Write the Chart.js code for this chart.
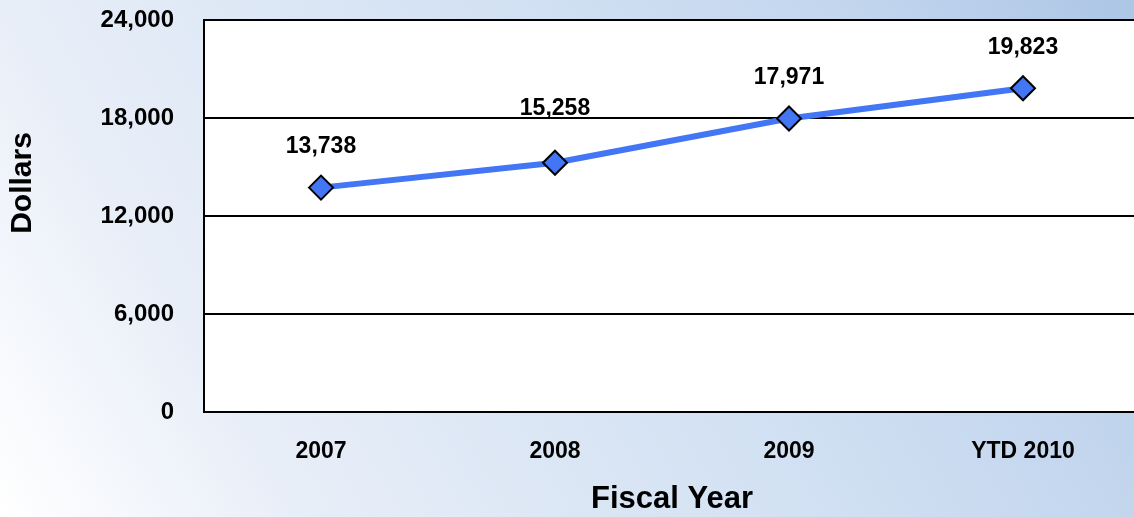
<!DOCTYPE html>
<html>
<head>
<meta charset="utf-8">
<script src="https://cdn.jsdelivr.net/npm/chart.js@4/dist/chart.umd.min.js"></script>
<style>
  html, body { margin: 0; padding: 0; width: 1134px; height: 517px; overflow: hidden; }
  body { background: linear-gradient(60deg, #ffffff 0%, #e8eef8 21%, #cfdff2 61%, #c3d6ee 79%, #adc6e6 100%); }
  #wrap { position: absolute; left: 0; top: 0; width: 1154px; height: 517px; }
</style>
</head>
<body>
<div id="wrap"><canvas id="c" width="1154" height="517"></canvas></div>
<script>
const categories = ["2007", "2008", "2009", "YTD 2010"];
const dollars = [13738, 15258, 17971, 19823];
const yTicks = [0, 6000, 12000, 18000, 24000];
const yTitle = "Dollars";
const xTitle = "Fiscal Year";

const FONT = "'Liberation Sans', Arial, sans-serif";
const fmt = v => v.toLocaleString('en-US');

const plotBg = {
  id: 'plotBg',
  beforeDraw(chart) {
    const {ctx, chartArea: a} = chart;
    ctx.save();
    ctx.fillStyle = '#ffffff';
    ctx.fillRect(a.left, a.top, a.right - a.left, a.bottom - a.top);
    ctx.restore();
  },
  afterDatasetsDraw(chart) {
    const {ctx, chartArea: a} = chart;
    ctx.save();
    ctx.strokeStyle = '#000';
    ctx.lineWidth = 2;
    ctx.strokeRect(a.left, a.top, a.right - a.left, a.bottom - a.top);
    ctx.restore();
  }
};

const labels = {
  id: 'valueLabels',
  afterDatasetsDraw(chart) {
    const {ctx} = chart;
    const meta = chart.getDatasetMeta(0);
    ctx.save();
    ctx.font = "bold 23px " + FONT;
    ctx.fillStyle = '#000';
    ctx.textAlign = 'center';
    ctx.textBaseline = 'middle';
    meta.data.forEach((pt, i) => {
      const off = i === 1 ? 54 : 41;
      ctx.fillText(fmt(chart.data.datasets[0].data[i]), pt.x, pt.y - off);
    });
    // y axis title
    ctx.font = "bold 30px " + FONT;
    ctx.translate(23, 183);
    ctx.rotate(-Math.PI / 2);
    ctx.fillText(yTitle, 0, 0);
    ctx.restore();
  }
};

new Chart(document.getElementById('c'), {
  type: 'line',
  data: {
    labels: categories,
    datasets: [{
      data: dollars,
      borderColor: 'rgb(66,118,245)',
      borderWidth: 6,
      backgroundColor: 'rgb(66,118,245)',
      pointStyle: 'rectRot',
      pointRadius: 12,
      pointHoverRadius: 12,
      pointBackgroundColor: 'rgb(66,118,245)',
      pointBorderColor: '#000',
      pointBorderWidth: 2,
      tension: 0,
      clip: false
    }]
  },
  options: {
    responsive: false,
    animation: false,
    events: [],
    layout: { padding: { top: 20, right: 1, left: 0, bottom: 0 } },
    plugins: { legend: { display: false }, tooltip: { enabled: false } },
    scales: {
      x: {
        offset: true,
        grid: { display: false, drawTicks: false },
        border: { display: false },
        ticks: { color: '#000', font: { family: FONT, size: 23, weight: 'bold' }, padding: 26, maxRotation: 0 },
        title: { display: true, text: xTitle, color: '#000', font: { family: FONT, size: 31, weight: 'bold', lineHeight: 1.0 }, padding: { top: 0, bottom: 2 } },
        afterFit(s) { s.height = 105; s.paddingLeft = 0; s.paddingRight = 0; }
      },
      y: {
        min: 0, max: 24000,
        afterBuildTicks(s) { s.ticks = yTicks.map(v => ({ value: v })); },
        grid: { color: '#000', lineWidth: 2, drawTicks: false },
        border: { display: false },
        ticks: { color: '#000', font: { family: FONT, size: 24, weight: 'bold' }, padding: 30, callback: v => fmt(v) },
        afterFit(s) { s.width = 204; s.paddingTop = 0; s.paddingBottom = 0; }
      }
    }
  },
  plugins: [plotBg, labels]
});
</script>
</body>
</html>
